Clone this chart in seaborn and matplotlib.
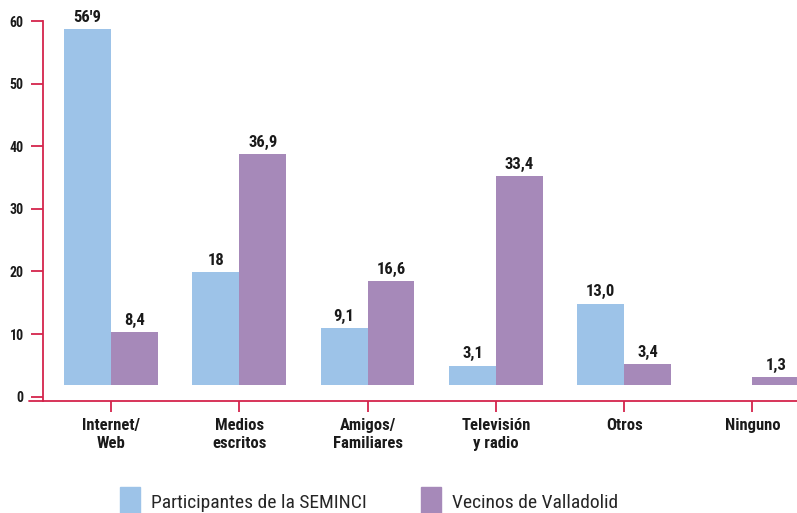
import pandas as pd
import numpy as np
import matplotlib.pyplot as plt
import seaborn as sns
from matplotlib.patches import Patch

# data
medios = ['Internet/\nWeb', 'Medios\nescritos', 'Amigos/\nFamiliares', 'Televisión\ny radio', 'Otros', 'Ninguno']
participantes = [56.9, 18, 9.1, 3.1, 13.0, np.nan]
vecinos = [8.4, 36.9, 16.6, 33.4, 3.4, 1.3]
etiq_participantes = ["56'9", '18', '9,1', '3,1', '13,0']
etiq_vecinos = ['8,4', '36,9', '16,6', '33,4', '3,4', '1,3']
grupos = ['Participantes de la SEMINCI', 'Vecinos de Valladolid']

df = pd.DataFrame({
    'medio': medios * 2,
    'valor': participantes + vecinos,
    'grupo': [grupos[0]] * len(medios) + [grupos[1]] * len(medios),
})

azul = '#9DC3E8'
morado = '#A689B9'
rojo = '#D4244C'
base = 1.85  # bars in the original sit a little above the zero line

sns.set_style('white')
plt.rcParams['font.family'] = ['Roboto Condensed', 'Liberation Sans', 'DejaVu Sans']

fig = plt.figure(figsize=(7.97, 5.13), dpi=100)
ax = fig.add_axes([43/797, 112/513, 754/797, 392.5/513])

sns.barplot(data=df, x='medio', y='valor', hue='grupo', order=medios, hue_order=grupos,
            palette=[azul, morado], width=0.73, saturation=1, errorbar=None,
            bottom=base, linewidth=0, legend=False, ax=ax)

for cont, labs in zip(ax.containers, [etiq_participantes, etiq_vecinos]):
    ax.bar_label(cont, labels=labs, padding=3, fontsize=12, fontweight='bold', color='#1a1a1a')

ax.set_xlim(-0.53, 5.347)
ax.set_ylim(-0.7, 62)
ax.set_yticks(range(0, 61, 10))
ax.set_xlabel('')
ax.set_ylabel('')

for s in ['top', 'right']:
    ax.spines[s].set_visible(False)
ax.spines['left'].set_color(rojo)
ax.spines['left'].set_linewidth(1.3)
ax.spines['left'].set_bounds(-0.7, 60)
ax.spines['bottom'].set_color(rojo)
ax.spines['bottom'].set_linewidth(1.3)
# the x axis line runs a bit past the y axis on the left
ax.plot([-0.018, 0], [-0.7, -0.7], color=rojo, lw=1.3, transform=ax.get_yaxis_transform(), clip_on=False)

ax.tick_params(axis='y', left=True, length=9, width=1.3, color=rojo, labelsize=10, pad=5, labelcolor='#1a1a1a')
ax.tick_params(axis='x', bottom=True, length=8, width=1.3, color=rojo, labelsize=12, pad=4, labelcolor='#1a1a1a')
for t in ax.get_yticklabels():
    t.set_fontweight('bold')
for t in ax.get_xticklabels():
    t.set_fontweight('bold')
    t.set_linespacing(1.3)

handles = [Patch(color=azul), Patch(color=morado)]
fig.legend(handles, grupos, loc='center left', bbox_to_anchor=(120/797, 11/513),
           ncol=2, frameon=False, borderpad=0, borderaxespad=0,
           handlelength=1.03, handleheight=2.0, handletextpad=0.57, columnspacing=2.8,
           prop={'family': ['Roboto Condensed', 'Liberation Sans', 'DejaVu Sans'], 'size': 14})

plt.savefig('out.png', dpi=100)
